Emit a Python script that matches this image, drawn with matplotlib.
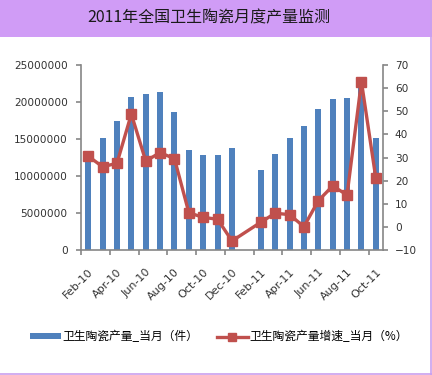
import numpy as np
import matplotlib
matplotlib.use('Agg')
import matplotlib.pyplot as plt
from matplotlib.patches import Rectangle
from matplotlib.lines import Line2D

plt.rcParams['font.family'] = ['DejaVu Sans', 'Noto Sans CJK SC']

months = ['Feb-10', 'Mar-10', 'Apr-10', 'May-10', 'Jun-10', 'Jul-10', 'Aug-10',
          'Sep-10', 'Oct-10', 'Nov-10', 'Dec-10', 'Jan-11', 'Feb-11', 'Mar-11',
          'Apr-11', 'May-11', 'Jun-11', 'Jul-11', 'Aug-11', 'Sep-11', 'Oct-11']
# monthly output (pieces); Jan-11 not reported
output = [12.9e6, 15.1e6, 17.4e6, 20.7e6, 21.1e6, 21.35e6, 18.65e6,
          13.5e6, 12.85e6, 12.85e6, 13.8e6, np.nan, 10.8e6, 12.95e6,
          15.1e6, 16.75e6, 19.05e6, 20.4e6, 20.5e6, 22.5e6, 15.1e6]
# growth rate (%)
growth = [30.6, 26.0, 27.5, 48.8, 28.5, 32.1, 29.5,
          6.1, 4.1, 3.3, -6.1, np.nan, 2.0, 5.9,
          5.3, 0.1, 11.3, 17.7, 13.8, 62.8, 21.1]

bar_label = '卫生陶瓷产量_当月（件）'
line_label = '卫生陶瓷产量增速_当月（%）'
title = '2011年全国卫生陶瓷月度产量监测'

W, H = 432, 375
fig = plt.figure(figsize=(W / 100, H / 100), dpi=100)
fig.patch.set_facecolor('white')

# title band and frame
fig.patches.append(Rectangle((0, 1 - 37 / H), 1, 37 / H, transform=fig.transFigure,
                             facecolor='#D09CF6', edgecolor='none', zorder=0))
fig.lines.append(Line2D([1 - 1.5 / W, 1 - 1.5 / W], [0, 1], transform=fig.transFigure,
                        color='#C9A0EE', lw=1.2))
fig.lines.append(Line2D([0, 1], [1.5 / H, 1.5 / H], transform=fig.transFigure,
                        color='#C9A0EE', lw=1.2))
fig.text(209 / W, 1 - 18 / H, title, ha='center', va='center', fontsize=11.5,
         family=['Noto Sans CJK SC', 'DejaVu Sans'], color='#1a1a1a')

ax = fig.add_axes([81 / W, 1 - 250 / H, (383 - 81) / W, (250 - 65) / H])
ax2 = ax.twinx()
ax.set_zorder(1)
ax2.set_zorder(2)
ax.patch.set_visible(False)

x = np.arange(len(months))
out = np.array(output, dtype=float)
gr = np.array(growth, dtype=float)

ax.bar(x, out, width=0.42, color='#4F81BD', zorder=2)
ok = ~np.isnan(gr)
ax2.plot(x[ok], gr[ok], color='#C0504D', lw=2.4, marker='s', markersize=7.5,
         markerfacecolor='#C0504D', markeredgecolor='#C0504D')

ax.set_xlim(-0.5, len(months) - 0.5)
ax.set_ylim(0, 25000000)
ax.set_yticks(np.arange(0, 25000001, 5000000))
ax.set_yticklabels([str(v) for v in range(0, 25000001, 5000000)])
ax2.set_ylim(-10, 70)
ax2.set_yticks(np.arange(-10, 71, 10))

ax.set_xticks(x[::2])
ax.set_xticklabels(months[::2], rotation=45, ha='right', rotation_mode='anchor')
ax.set_xticks(np.arange(-0.5, len(months), 2), minor=True)
ax.tick_params(axis='x', which='major', length=0, pad=12, labelsize=8, colors='#333333')
ax.tick_params(axis='x', which='minor', length=3.5, color='#868686', width=1.2)

ax.tick_params(axis='y', length=3.5, color='#868686', width=1.2, labelsize=7.6,
               labelcolor='#333333', pad=6)
ax2.tick_params(axis='y', length=3.5, color='#868686', width=1.2, labelsize=7.6,
                labelcolor='#333333', pad=5)

for a in (ax, ax2):
    a.spines['top'].set_visible(False)
    for s in ('left', 'right', 'bottom'):
        a.spines[s].set_color('#868686')
        a.spines[s].set_linewidth(1.2)
ax.spines['right'].set_visible(False)
ax2.spines['left'].set_visible(False)
ax2.spines['bottom'].set_visible(False)

handles = [Rectangle((0, 0), 1, 1, facecolor='#4F81BD', edgecolor='none'),
           Line2D([], [], color='#C0504D', lw=2.4, marker='s', markersize=6)]
leg = fig.legend(handles, [bar_label, line_label], loc='center',
                 bbox_to_anchor=(219 / W, 1 - 337 / H), ncol=2, frameon=False,
                 handlelength=2.6, handleheight=0.45,
                 columnspacing=1.6, handletextpad=0.1,
                 prop={'family': ['Noto Sans CJK SC', 'DejaVu Sans'], 'size': 8.5})

fig.savefig('out.png', dpi=100)
